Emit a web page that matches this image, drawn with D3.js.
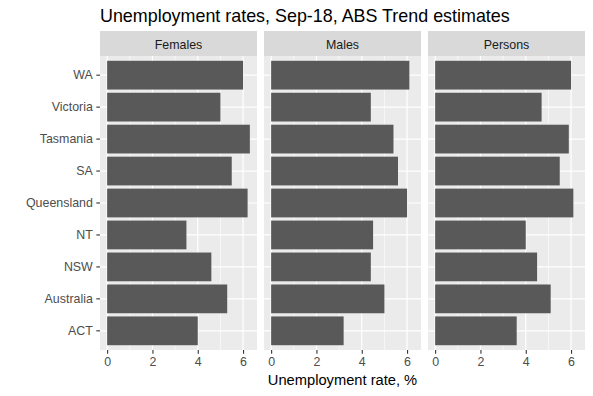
<!DOCTYPE html>
<html>
<head>
<meta charset="utf-8">
<script src="https://cdn.jsdelivr.net/npm/d3@7"></script>
<style>
  body { margin: 0; background: #fff; }
  svg { font-family: "Liberation Sans", Arial, sans-serif; }
</style>
</head>
<body>
<svg id="chart" width="593" height="396"></svg>
<script>
// data
const states = ['ACT', 'Australia', 'NSW', 'NT', 'Queensland', 'SA', 'Tasmania', 'Victoria', 'WA'];
const facets = ['Females', 'Males', 'Persons'];
const females = [4.0, 5.3, 4.6, 3.5, 6.2, 5.5, 6.3, 5.0, 6.0];
const males = [3.2, 5.0, 4.4, 4.5, 6.0, 5.6, 5.4, 4.4, 6.1];
const persons = [3.6, 5.1, 4.5, 4.0, 6.1, 5.5, 5.9, 4.7, 6.0];
const xTicks = [0, 2, 4, 6];
const xMinor = [1, 3, 5];

const values = {Females: females, Males: males, Persons: persons};

const svg = d3.select('#chart');

const width = 593,
  height = 396,
  margin = {top: 56, right: 8, bottom: 46, left: 100},
  stripH = 25,
  gap = 7,
  tickFont = 12.4;

const panelW = (width - margin.left - margin.right - 2 * gap) / 3;
const panelH = height - margin.top - margin.bottom;

// ggplot-style 5% expansion on the continuous axis
const maxVal = d3.max(facets, f => d3.max(values[f]));
const pad = maxVal * 0.05;
const x = d3.scaleLinear()
  .domain([-pad, maxVal + pad])
  .range([0, panelW]);

const y = d3.scaleBand()
  .domain(states.slice().reverse())
  .range([0, panelH])
  .paddingInner(0.1)
  .paddingOuter(0.15);

svg.append('text')
  .attr('x', margin.left)
  .attr('y', 22)
  .attr('font-size', 17.9)
  .attr('fill', '#000')
  .text('Unemployment rates, Sep-18, ABS Trend estimates');

facets.forEach((f, fi) => {
  const g = svg.append('g')
    .attr('transform', `translate(${margin.left + fi * (panelW + gap)}, ${margin.top})`);

  // strip
  g.append('rect')
    .attr('x', 0).attr('y', -stripH)
    .attr('width', panelW).attr('height', stripH)
    .attr('fill', '#d9d9d9');
  g.append('text')
    .attr('x', panelW / 2).attr('y', -7.5)
    .attr('text-anchor', 'middle')
    .attr('font-size', tickFont)
    .attr('fill', '#1a1a1a')
    .text(f);

  // panel background and grid
  g.append('rect')
    .attr('width', panelW).attr('height', panelH)
    .attr('fill', '#ebebeb');

  g.selectAll('line.minor')
      .data(xMinor)
    .join('line')
      .attr('class', 'minor')
      .attr('x1', d => x(d)).attr('x2', d => x(d))
      .attr('y1', 0).attr('y2', panelH)
      .attr('stroke', '#fff').attr('stroke-width', 0.6);

  g.selectAll('line.majorx')
      .data(xTicks)
    .join('line')
      .attr('class', 'majorx')
      .attr('x1', d => x(d)).attr('x2', d => x(d))
      .attr('y1', 0).attr('y2', panelH)
      .attr('stroke', '#fff').attr('stroke-width', 1.2);

  g.selectAll('line.majory')
      .data(states)
    .join('line')
      .attr('class', 'majory')
      .attr('x1', 0).attr('x2', panelW)
      .attr('y1', d => y(d) + y.bandwidth() / 2)
      .attr('y2', d => y(d) + y.bandwidth() / 2)
      .attr('stroke', '#fff').attr('stroke-width', 1.2);

  // bars
  g.selectAll('rect.bar')
      .data(states.map((s, i) => ({state: s, value: values[f][i]})))
    .join('rect')
      .attr('class', 'bar')
      .attr('x', x(0))
      .attr('y', d => y(d.state))
      .attr('width', d => x(d.value) - x(0))
      .attr('height', y.bandwidth())
      .attr('fill', '#595959');

  // x axis
  const xa = g.append('g')
    .attr('transform', `translate(0, ${panelH})`)
    .call(d3.axisBottom(x).tickValues(xTicks).tickSize(3.7).tickPadding(3).tickFormat(d3.format('d')));
  xa.select('.domain').remove();
  xa.selectAll('.tick line').attr('stroke', '#333').attr('stroke-width', 1.1);
  xa.selectAll('.tick text')
    .attr('font-size', tickFont)
    .attr('font-family', '"Liberation Sans", Arial, sans-serif')
    .attr('fill', '#4d4d4d');

  if (fi === 0) {
    const ya = g.append('g')
      .call(d3.axisLeft(y).tickSize(3.7).tickPadding(3.5));
    ya.select('.domain').remove();
    ya.selectAll('.tick line').attr('stroke', '#333').attr('stroke-width', 1.1);
    ya.selectAll('.tick text')
      .attr('font-size', tickFont)
      .attr('font-family', '"Liberation Sans", Arial, sans-serif')
      .attr('fill', '#4d4d4d');
  }
});

svg.append('text')
  .attr('x', margin.left + (width - margin.left - margin.right) / 2)
  .attr('y', 385)
  .attr('text-anchor', 'middle')
  .attr('font-size', 14.7)
  .attr('fill', '#000')
  .text('Unemployment rate, %');
</script>
</body>
</html>
